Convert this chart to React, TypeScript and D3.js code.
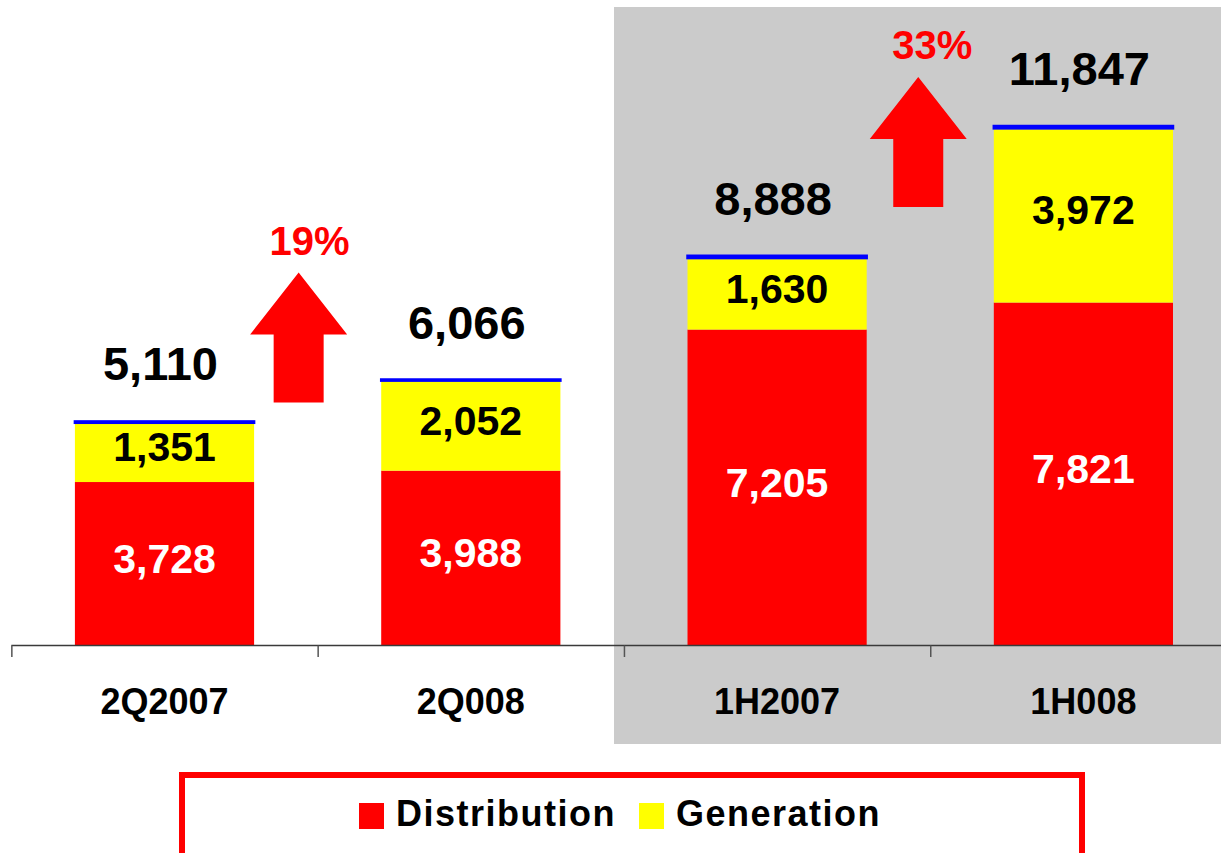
import React from "react";
import * as d3 from "d3";

const categories = ["2Q2007", "2Q008", "1H2007", "1H008"];
const distribution = [3728, 3988, 7205, 7821];
const generation = [1351, 2052, 1630, 3972];
const totals = [5110, 6066, 8888, 11847];
const growthLabels = ["19%", "33%"];
const growthFrom = [0, 2];
const legendItems = ["Distribution", "Generation"];

const W = 1221;
const H = 853;
const FONT = "'Liberation Sans', Arial, sans-serif";
const RED = "#FF0000";
const YELLOW = "#FFFF00";
const BLUE = "#0000FF";
const fmt = d3.format(",");

export default function App() {
  const step = 306.3;
  const x0 = 11.35;
  const x = d3
    .scaleBand<string>()
    .domain(categories)
    .range([x0, x0 + step * categories.length])
    .padding(0);
  const barW = x.bandwidth() * 0.585;
  const y = d3.scaleLinear().domain([0, 12000]).range([645.5, 119.3]);

  const data = categories.map((c, i) => {
    const d = distribution[i];
    const g = generation[i];
    const t = totals[i];
    return { c, d, g, t, other: t - d - g };
  });

  const stack = d3
    .stack<any>()
    .keys(["d", "g", "other"])(data);

  const colors: Record<string, string> = { d: RED, g: YELLOW, other: BLUE };

  const cx = (c: string) => (x(c) as number) + x.bandwidth() / 2;

  const arrowPath = (mx: number, bottom: number) => {
    const h = 130;
    const headH = 62;
    const headHalf = 48.5;
    const shaftHalf = 25;
    const top = bottom - h;
    const hb = top + headH;
    return `M${mx},${top} L${mx + headHalf},${hb} L${mx + shaftHalf},${hb} L${mx + shaftHalf},${bottom} L${mx - shaftHalf},${bottom} L${mx - shaftHalf},${hb} L${mx - headHalf},${hb} Z`;
  };

  return (
    <svg
      width={W}
      height={H}
      style={{ position: "absolute", left: 0, top: 0, display: "block" }}
      fontFamily={FONT}
    >
      <rect x={0} y={0} width={W} height={H} fill="#ffffff" />
      {/* gray highlight panel behind half-year bars */}
      <rect x={614} y={7} width={W - 614} height={737} fill="#CBCBCB" />

      {/* stacked bars */}
      {stack.map((layer) =>
        layer.map((seg, i) => {
          const c = categories[i];
          const isOther = layer.key === "other";
          return (
            <rect
              key={layer.key + c}
              x={cx(c) - barW / 2}
              y={y(seg[1])}
              width={barW}
              height={Math.max(0, y(seg[0]) - y(seg[1]))}
              fill={colors[layer.key]}
              stroke={isOther ? BLUE : "none"}
              strokeWidth={isOther ? 2.5 : 0}
            />
          );
        })
      )}

      {/* axis */}
      <line x1={x0} x2={W} y1={645.5} y2={645.5} stroke="#3a3a3a" strokeWidth={1.5} />
      {d3.range(categories.length + 1).map((i) => (
        <line
          key={"t" + i}
          x1={x0 + i * step + 0.5}
          x2={x0 + i * step + 0.5}
          y1={645.5}
          y2={657}
          stroke="#555"
          strokeWidth={1.5}
        />
      ))}
      {categories.map((c) => (
        <text
          key={"cat" + c}
          x={cx(c)}
          y={714}
          textAnchor="middle"
          fontSize={36}
          fontWeight="bold"
          fill="#000"
        >
          {c}
        </text>
      ))}

      {/* segment labels */}
      {data.map((dd) => (
        <g key={"lbl" + dd.c}>
          <text
            x={cx(dd.c)}
            y={(y(0) + y(dd.d)) / 2 - 5 + 14}
            textAnchor="middle"
            fontSize={41}
            fontWeight="bold"
            fill="#ffffff"
          >
            {fmt(dd.d)}
          </text>
          <text
            x={cx(dd.c)}
            y={(y(dd.d) + y(dd.d + dd.g)) / 2 - 5 + 14}
            textAnchor="middle"
            fontSize={41}
            fontWeight="bold"
            fill="#000"
          >
            {fmt(dd.g)}
          </text>
          <text
            x={cx(dd.c) - 4}
            y={y(dd.t) - 41}
            textAnchor="middle"
            fontSize={47}
            fontWeight="bold"
            fill="#000"
          >
            {fmt(dd.t)}
          </text>
        </g>
      ))}

      {/* growth arrows */}
      {growthFrom.map((fi, k) => {
        const nextTotal = totals[fi + 1];
        const mx = (x(categories[fi + 1]) as number) - 19 + (k === 1 ? 7 : 0);
        const bottom = y(nextTotal) + 23 + (k === 1 ? 58 : 0);
        return (
          <g key={"arrow" + k}>
            <path d={arrowPath(mx, bottom)} fill={RED} />
            <text
              x={mx + 11 + (k === 1 ? 3 : 0)}
              y={bottom - 148}
              textAnchor="middle"
              fontSize={40}
              fontWeight="bold"
              fill={RED}
            >
              {growthLabels[k]}
            </text>
          </g>
        );
      })}

      {/* legend */}
      <rect x={182} y={775} width={900} height={100} fill="#fff" stroke={RED} strokeWidth={6} />
      <rect x={359} y={803} width={25} height={26} fill={RED} />
      <text x={396} y={826} fontSize={36} fontWeight="bold" letterSpacing={1.5} fill="#000">
        {legendItems[0]}
      </text>
      <rect x={639} y={803} width={25} height={26} fill={YELLOW} />
      <text x={676} y={826} fontSize={36} fontWeight="bold" letterSpacing={1.5} fill="#000">
        {legendItems[1]}
      </text>
    </svg>
  );
}
